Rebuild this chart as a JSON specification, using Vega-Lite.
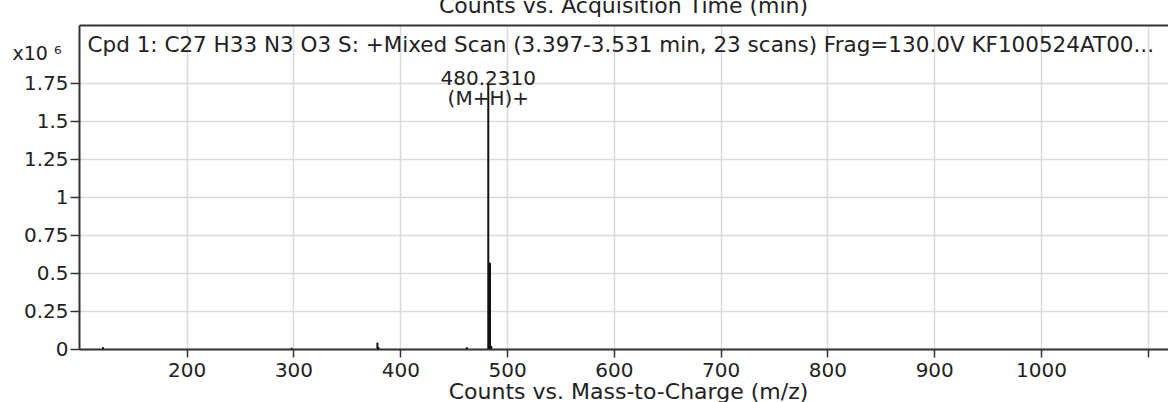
{
  "$schema": "https://vega.github.io/schema/vega-lite/v6.json",
  "width": 1089,
  "height": 324,
  "autosize": {"type": "none"},
  "padding": {"left": 79, "top": 25, "right": 0, "bottom": 53},
  "background": "white",
  "view": {"stroke": "transparent"},
  "config": {
    "view": {"stroke": "transparent"},
    "font": "DejaVu Sans",
    "axis": {
      "labelFont": "DejaVu Sans",
      "titleFont": "DejaVu Sans",
      "labelColor": "#222",
      "titleColor": "#222",
      "titleFontWeight": "normal",
      "domainColor": "#333",
      "domainWidth": 2,
      "tickColor": "#333",
      "tickWidth": 1.5,
      "gridColor": "#dadada",
      "gridWidth": 1.5
    }
  },
  "title": {
    "text": "Counts vs. Acquisition Time (min)",
    "anchor": "middle",
    "frame": "group",
    "orient": "top",
    "offset": -10,
    "baseline": "alphabetic",
    "font": "DejaVu Sans",
    "fontSize": 22,
    "fontWeight": "normal",
    "color": "#222"
  },
  "data": {
    "values": [
      {"mz": 121.6, "counts": 0.012},
      {"mz": 298.2, "counts": 0.008},
      {"mz": 378.6, "counts": 0.042},
      {"mz": 379.6, "counts": 0.012},
      {"mz": 462.3, "counts": 0.012},
      {"mz": 482.4, "counts": 1.74, "label": "480.2310\n(M+H)+"},
      {"mz": 483.3, "counts": 0.57},
      {"mz": 484.0, "counts": 0.565},
      {"mz": 485.2, "counts": 0.02}
    ]
  },
  "resolve": {"axis": {"x": "independent"}},
  "layer": [
    {
      "mark": {"type": "rule", "color": "#111", "strokeWidth": 2},
      "encoding": {
        "x": {
          "field": "mz",
          "type": "quantitative",
          "scale": {"domain": [99.15, 1118.9], "nice": false, "zero": false},
          "axis": {
            "orient": "bottom",
            "values": [200, 300, 400, 500, 600, 700, 800, 900, 1000, 1100],
            "format": "d",
            "labelExpr": "datum.value == 1100 ? '' : datum.label",
            "labelFontSize": 20,
            "labelPadding": 3,
            "tickSize": 8,
            "grid": true,
            "title": "Counts vs. Mass-to-Charge (m/z)",
            "titleFontSize": 22,
            "titleX": 549,
            "titleY": 49,
            "titleBaseline": "alphabetic"
          }
        },
        "y": {
          "field": "counts",
          "type": "quantitative",
          "scale": {"domain": [0, 2.1316], "nice": false},
          "axis": {
            "orient": "left",
            "values": [0, 0.25, 0.5, 0.75, 1, 1.25, 1.5, 1.75],
            "labelExpr": "toString(datum.value)",
            "labelFontSize": 20,
            "labelPadding": 2,
            "tickSize": 9,
            "grid": true,
            "title": "x10  ⁶",
            "titleAngle": 0,
            "titleAlign": "left",
            "titleBaseline": "alphabetic",
            "titleFontSize": 19,
            "titleX": -67,
            "titleY": 34
          }
        },
        "y2": {"datum": 0}
      }
    },
    {
      "transform": [{"filter": "isValid(datum.label)"}],
      "mark": {
        "type": "text",
        "align": "center",
        "baseline": "alphabetic",
        "lineBreak": "\n",
        "lineHeight": 20,
        "font": "DejaVu Sans",
        "fontSize": 20,
        "color": "#222"
      },
      "encoding": {
        "x": {
          "field": "mz",
          "type": "quantitative",
          "axis": {
            "orient": "top",
            "domain": true,
            "ticks": false,
            "labels": false,
            "grid": false,
            "title": "Cpd 1: C27 H33 N3 O3 S: +Mixed Scan (3.397-3.531 min, 23 scans) Frag=130.0V KF100524AT00...",
            "titleFontSize": 21.5,
            "titleAnchor": "start",
            "titleAlign": "left",
            "titleBaseline": "alphabetic",
            "titleX": 8,
            "titleY": 26
          }
        },
        "y": {"field": "counts", "type": "quantitative"},
        "text": {"field": "label"}
      }
    }
  ]
}
